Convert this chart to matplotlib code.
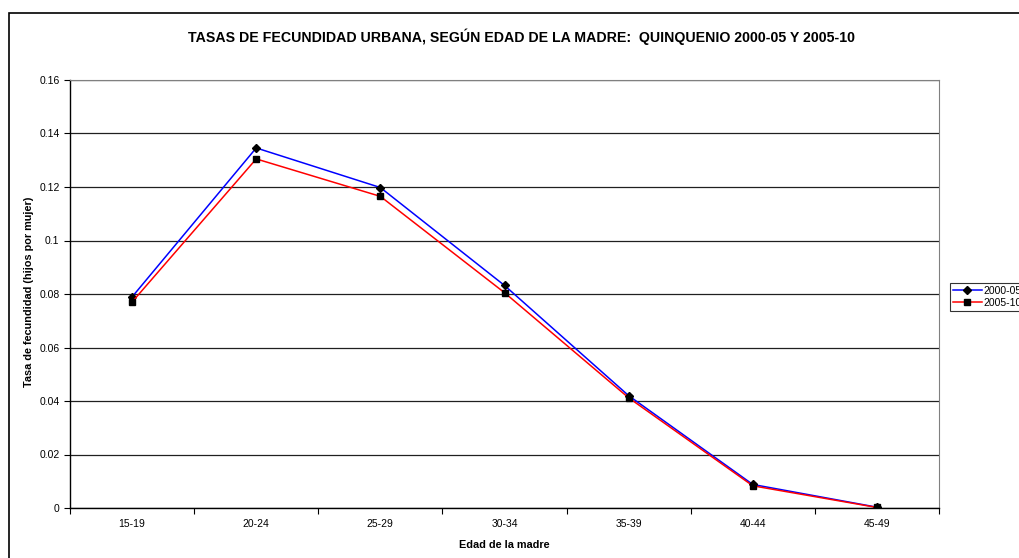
import matplotlib
matplotlib.use("Agg")
import matplotlib.pyplot as plt
from matplotlib.patches import Rectangle

plt.rcParams['font.family'] = ['Liberation Sans', 'DejaVu Sans']

edades = ["15-19", "20-24", "25-29", "30-34", "35-39", "40-44", "45-49"]
tasas_2000_05 = [0.0789, 0.1346, 0.1198, 0.0832, 0.0420, 0.0088, 0.0003]
tasas_2005_10 = [0.0770, 0.1305, 0.1165, 0.0805, 0.0412, 0.0083, 0.0002]
series = ["2000-05", "2005-10"]

W, H = 1019, 558
fig = plt.figure(figsize=(W / 100, H / 100), dpi=100)
ax = fig.add_axes([70 / W, 1 - 508 / H, 869 / W, 428 / H])

# marco exterior del grafico
fig.add_artist(Rectangle((9 / W, -0.1), 1.2, 1.1 - 13 / H, transform=fig.transFigure,
                         fill=False, edgecolor='black', linewidth=1.2))

x = list(range(len(edades)))
ax.plot(x, tasas_2000_05, color='#0000ff', linewidth=1.1, marker='D',
        markersize=4, markerfacecolor='black', markeredgecolor='black', label=series[0])
ax.plot(x, tasas_2005_10, color='#ff0000', linewidth=1.1, marker='s',
        markersize=5, markerfacecolor='black', markeredgecolor='black', label=series[1])

ax.set_xlim(-0.5, len(edades) - 0.5)
ax.set_ylim(0, 0.16)
ax.set_yticks([0, 0.02, 0.04, 0.06, 0.08, 0.1, 0.12, 0.14, 0.16])
ax.set_yticklabels(["0", "0.02", "0.04", "0.06", "0.08", "0.1", "0.12", "0.14", "0.16"])
ax.set_xticks(x)
ax.set_xticklabels(edades)
ax.set_xticks([i - 0.5 for i in range(len(edades) + 1)], minor=True)
ax.tick_params(axis='x', which='major', length=0, labelsize=7.5, pad=8)
ax.tick_params(axis='x', which='minor', length=4, width=0.8, direction='out')
ax.tick_params(axis='y', length=4, width=0.8, labelsize=7.5, direction='out')

ax.grid(axis='y', color='#202020', linewidth=0.9)
ax.set_axisbelow(True)
for s in ['top', 'right']:
    ax.spines[s].set_color('#808080')
for s in ['left', 'bottom']:
    ax.spines[s].set_color('black')
    ax.spines[s].set_linewidth(1.0)

fig.text(521 / W, 1 - 37 / H, "TASAS DE FECUNDIDAD URBANA, SEGÚN EDAD DE LA MADRE:  QUINQUENIO 2000-05 Y 2005-10",
         ha='center', va='center', fontsize=10.2, fontweight='bold')
fig.text(504 / W, 1 - 545 / H, "Edad de la madre", ha='center', va='center',
         fontsize=7.8, fontweight='bold')
fig.text(29 / W, 1 - 292 / H, "Tasa de fecundidad (hijos por mujer)", ha='center', va='center',
         rotation=90, fontsize=7.8, fontweight='bold')

leg = fig.legend(loc='center left', bbox_to_anchor=(950 / W, 1 - 297 / H), fontsize=7.5,
                 frameon=True, fancybox=False, edgecolor='black', borderpad=0.25,
                 handlelength=2.8, handletextpad=0.2, labelspacing=0.2, borderaxespad=0)
leg.get_frame().set_linewidth(0.8)

fig.savefig("out.png", dpi=100)
